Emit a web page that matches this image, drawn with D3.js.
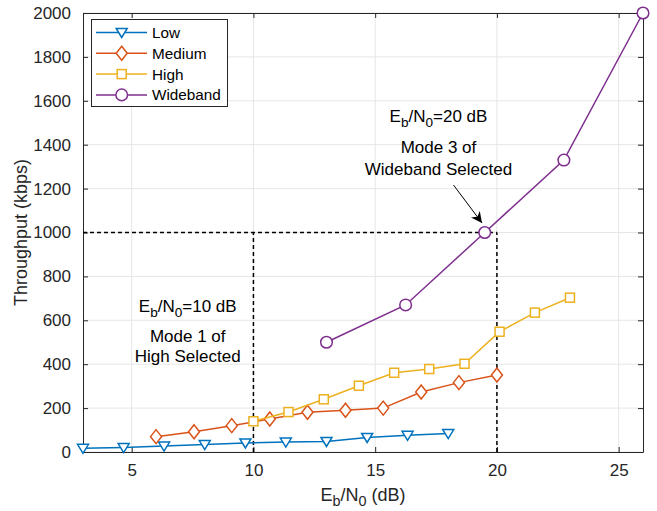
<!DOCTYPE html>
<html>
<head>
<meta charset="utf-8">
<script src="https://cdn.jsdelivr.net/npm/d3@7"></script>
<style>
  body { margin: 0; background: #fff; }
  svg { font-family: "Liberation Sans", Arial, Helvetica, sans-serif; }
</style>
</head>
<body>
<svg id="chart" width="657" height="511"></svg>
<script>
// data
const lowX = [3, 4.67, 6.33, 8, 9.67, 11.33, 13, 14.67, 16.33, 18]
const lowY = [17, 20, 27, 34, 41, 45, 48, 66, 76, 84]
const medX = [6, 7.56, 9.11, 10.67, 12.22, 13.78, 15.33, 16.89, 18.44, 20]
const medY = [70, 92, 120, 150, 181, 190, 200, 273, 316, 351]
const highX = [10, 11.44, 12.89, 14.33, 15.78, 17.22, 18.67, 20.11, 21.56, 23]
const highY = [140, 182, 240, 302, 361, 378, 402, 548, 635, 703]
const wideX = [13, 16.25, 19.5, 22.75, 26]
const wideY = [500, 670, 1000, 1330, 2000]

const xTicks = [5, 10, 15, 20, 25]
const yTicks = [0, 200, 400, 600, 800, 1000, 1200, 1400, 1600, 1800, 2000]

const series = [
  { name: 'Low', xs: lowX, ys: lowY, color: '#0072BD', marker: 'tri' },
  { name: 'Medium', xs: medX, ys: medY, color: '#D95319', marker: 'diamond' },
  { name: 'High', xs: highX, ys: highY, color: '#EDB120', marker: 'square' },
  { name: 'Wideband', xs: wideX, ys: wideY, color: '#7E2F8E', marker: 'circle' }
]

const W = 657, H = 511
const margin = { top: 13, right: 14, bottom: 59, left: 83 }
const axisColor = '#262626'

const svg = d3.select('#chart')

const x = d3.scaleLinear().domain([3, 26]).range([margin.left, W - margin.right])
const y = d3.scaleLinear().domain([0, 2000]).range([H - margin.bottom, margin.top])

// grid
svg.append('g').selectAll('line').data(xTicks).join('line')
  .attr('x1', d => x(d)).attr('x2', d => x(d))
  .attr('y1', y(0)).attr('y2', y(2000))
  .attr('stroke', '#e6e6e6').attr('stroke-width', 1)
svg.append('g').selectAll('line').data(yTicks).join('line')
  .attr('x1', x(3)).attr('x2', x(26))
  .attr('y1', d => y(d)).attr('y2', d => y(d))
  .attr('stroke', '#e6e6e6').attr('stroke-width', 1)

// axes (MATLAB style: ticks inward, box on)
const fmt = d3.format('d')
const xAxis = d3.axisBottom(x).tickValues(xTicks).tickFormat(fmt).tickSizeInner(-5).tickSizeOuter(0).tickPadding(12)
const yAxis = d3.axisLeft(y).tickValues(yTicks).tickFormat(fmt).tickSizeInner(-5).tickSizeOuter(0).tickPadding(12)

const gx = svg.append('g').attr('transform', `translate(0,${y(0)})`).call(xAxis)
const gy = svg.append('g').attr('transform', `translate(${x(3)},0)`).call(yAxis)
svg.append('g').attr('transform', `translate(0,${y(2000)})`)
  .call(d3.axisTop(x).tickValues(xTicks).tickSizeInner(-5).tickSizeOuter(0).tickFormat(''))
svg.append('g').attr('transform', `translate(${x(26)},0)`)
  .call(d3.axisRight(y).tickValues(yTicks).tickSizeInner(-5).tickSizeOuter(0).tickFormat(''))

svg.selectAll('.domain').attr('stroke', axisColor)
svg.selectAll('.tick line').attr('stroke', axisColor)
svg.selectAll('.tick text').attr('fill', axisColor).style('font-size', '17px')
  .style('font-family', '"Liberation Sans", Arial, sans-serif')

// dashed guide lines
const guides = svg.append('g').attr('stroke', '#000').attr('stroke-width', 1.5)
  .attr('stroke-dasharray', '4,3').attr('fill', 'none')
guides.append('line').attr('x1', x(3)).attr('x2', x(20)).attr('y1', y(1000)).attr('y2', y(1000))
guides.append('line').attr('x1', x(10)).attr('x2', x(10)).attr('y1', y(0)).attr('y2', y(1000))
guides.append('line').attr('x1', x(20)).attr('x2', x(20)).attr('y1', y(0)).attr('y2', y(1000))

// marker shapes
function drawMarker(g, type, color) {
  if (type === 'tri') {
    g.append('path').attr('d', 'M-5.5,-4 L5.5,-4 L0,5 Z')
  } else if (type === 'diamond') {
    g.append('path').attr('d', 'M0,-7 L5.5,0 L0,7 L-5.5,0 Z')
  } else if (type === 'square') {
    g.append('rect').attr('x', -4.5).attr('y', -4.5).attr('width', 9).attr('height', 9)
  } else {
    g.append('circle').attr('r', 5.8)
  }
  g.selectAll('*').attr('fill', '#fff').attr('stroke', color).attr('stroke-width', 1.5)
}

const line = d3.line().x(d => x(d[0])).y(d => y(d[1]))

series.forEach(s => {
  const pts = s.xs.map((v, i) => [v, s.ys[i]])
  svg.append('path').datum(pts).attr('d', line)
    .attr('fill', 'none').attr('stroke', s.color).attr('stroke-width', 1.5)
  pts.forEach(p => {
    const g = svg.append('g').attr('transform', `translate(${x(p[0])},${y(p[1])})`)
    drawMarker(g, s.marker, s.color)
  })
})

// helper for E_b/N_0 text
function ebn0(sel, tail) {
  sel.append('tspan').text('E')
  sel.append('tspan').text('b').attr('dy', 5).style('font-size', '0.8em')
  sel.append('tspan').text('/N').attr('dy', -5)
  sel.append('tspan').text('0').attr('dy', 5).style('font-size', '0.8em')
  sel.append('tspan').text(tail).attr('dy', -5)
}

// annotations
const ann = svg.append('g').attr('text-anchor', 'middle').style('font-size', '17px').attr('fill', '#000')
const a1x = x(7.3)
ebn0(ann.append('text').attr('x', a1x).attr('y', 312), '=10 dB')
ann.append('text').attr('x', a1x).attr('y', 342).text('Mode 1 of')
ann.append('text').attr('x', a1x).attr('y', 362).text('High Selected')

const a2x = x(17.6)
ebn0(ann.append('text').attr('x', a2x).attr('y', 122), '=20 dB')
ann.append('text').attr('x', a2x).attr('y', 153).text('Mode 3 of')
ann.append('text').attr('x', a2x).attr('y', 175).text('Wideband Selected')

// arrow
svg.append('defs').append('marker')
  .attr('id', 'arrowhead').attr('viewBox', '0 0 10 10')
  .attr('refX', 10).attr('refY', 5)
  .attr('markerWidth', 16).attr('markerHeight', 11)
  .attr('markerUnits', 'userSpaceOnUse').attr('orient', 'auto')
  .append('path').attr('d', 'M0,0 L10,5 L0,10 L3,5 Z').attr('fill', '#000')
svg.append('line')
  .attr('x1', 453.5).attr('y1', 185).attr('x2', 482).attr('y2', 223)
  .attr('stroke', '#000').attr('stroke-width', 1).attr('marker-end', 'url(#arrowhead)')

// axis labels
const xl = svg.append('text').attr('text-anchor', 'middle')
  .attr('x', (x(3) + x(26)) / 2).attr('y', 501).style('font-size', '18px').attr('fill', axisColor)
ebn0(xl, ' (dB)')

svg.append('text').attr('text-anchor', 'middle')
  .attr('transform', `translate(27,${(y(0) + y(2000)) / 2}) rotate(-90)`)
  .style('font-size', '18px').attr('fill', axisColor)
  .text('Throughput (kbps)')

// legend
const leg = svg.append('g')
leg.append('rect').attr('x', 91.5).attr('y', 19.5).attr('width', 136).attr('height', 87)
  .attr('fill', '#fff').attr('stroke', axisColor).attr('stroke-width', 1)
series.forEach((s, i) => {
  const ly = 32.5 + i * 20.8
  leg.append('line').attr('x1', 96).attr('x2', 147).attr('y1', ly).attr('y2', ly)
    .attr('stroke', s.color).attr('stroke-width', 1.5)
  drawMarker(leg.append('g').attr('transform', `translate(121.7,${ly})`), s.marker, s.color)
  leg.append('text').attr('x', 152).attr('y', ly + 5.5).style('font-size', '15.3px')
    .attr('fill', '#000').text(s.name)
})
</script>
</body>
</html>
